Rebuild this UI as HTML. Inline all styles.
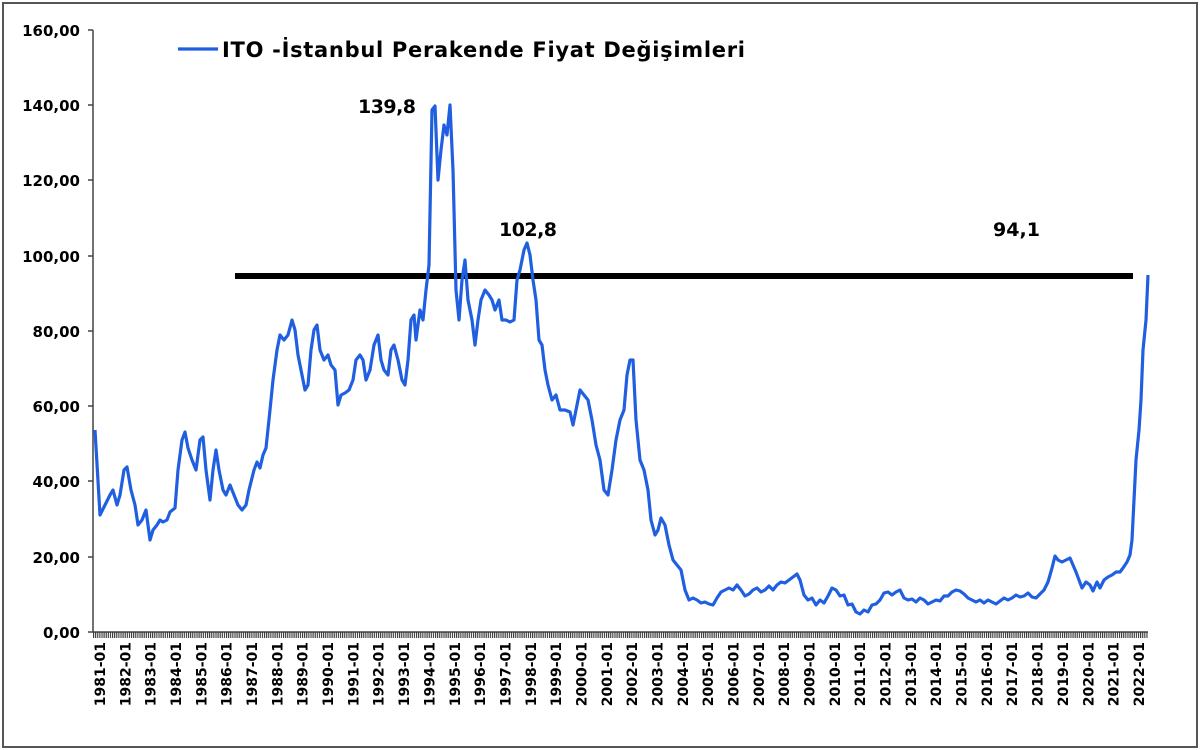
<!DOCTYPE html>
<html><head><meta charset="utf-8"><style>
html,body{margin:0;padding:0;background:#fff;width:1200px;height:750px;overflow:hidden}
text{font-family:"DejaVu Sans","Liberation Sans",sans-serif;font-weight:bold;fill:#000}
</style></head><body>
<svg width="1200" height="750" viewBox="0 0 1200 750" xmlns="http://www.w3.org/2000/svg">
<defs>
<pattern id="tk" x="93" y="0" width="2.111" height="10" patternUnits="userSpaceOnUse">
<rect x="0" y="0" width="1.1" height="10" fill="#333"/>
</pattern>
</defs>
<rect x="3" y="3" width="1194" height="744" fill="#fff" stroke="#555" stroke-width="2"/>
<line x1="93" y1="30" x2="93" y2="632" stroke="#444" stroke-width="1.5"/>
<line x1="93" y1="632" x2="1148" y2="632" stroke="#444" stroke-width="1.5"/>
<rect x="93" y="632" width="1055" height="6" fill="url(#tk)"/>
<g stroke="#444" stroke-width="1.5">
<line x1="88" y1="632" x2="93" y2="632"/><line x1="88" y1="557" x2="93" y2="557"/><line x1="88" y1="481" x2="93" y2="481"/><line x1="88" y1="406" x2="93" y2="406"/><line x1="88" y1="331" x2="93" y2="331"/><line x1="88" y1="256" x2="93" y2="256"/><line x1="88" y1="180" x2="93" y2="180"/><line x1="88" y1="105" x2="93" y2="105"/><line x1="88" y1="30" x2="93" y2="30"/>
</g>
<g font-size="15" text-anchor="end">
<text x="80" y="638">0,00</text>
<text x="80" y="563">20,00</text>
<text x="80" y="487">40,00</text>
<text x="80" y="412">60,00</text>
<text x="80" y="337">80,00</text>
<text x="80" y="262">100,00</text>
<text x="80" y="186">120,00</text>
<text x="80" y="111">140,00</text>
<text x="80" y="36">160,00</text>
</g>
<g font-size="14" text-anchor="end">
<text transform="translate(105,642) rotate(-90)">1981-01</text>
<text transform="translate(130.3,642) rotate(-90)">1982-01</text>
<text transform="translate(155.7,642) rotate(-90)">1983-01</text>
<text transform="translate(181,642) rotate(-90)">1984-01</text>
<text transform="translate(206.4,642) rotate(-90)">1985-01</text>
<text transform="translate(231.7,642) rotate(-90)">1986-01</text>
<text transform="translate(257,642) rotate(-90)">1987-01</text>
<text transform="translate(282.4,642) rotate(-90)">1988-01</text>
<text transform="translate(307.7,642) rotate(-90)">1989-01</text>
<text transform="translate(333.1,642) rotate(-90)">1990-01</text>
<text transform="translate(358.4,642) rotate(-90)">1991-01</text>
<text transform="translate(383.7,642) rotate(-90)">1992-01</text>
<text transform="translate(409.1,642) rotate(-90)">1993-01</text>
<text transform="translate(434.4,642) rotate(-90)">1994-01</text>
<text transform="translate(459.8,642) rotate(-90)">1995-01</text>
<text transform="translate(485.1,642) rotate(-90)">1996-01</text>
<text transform="translate(510.4,642) rotate(-90)">1997-01</text>
<text transform="translate(535.8,642) rotate(-90)">1998-01</text>
<text transform="translate(561.1,642) rotate(-90)">1999-01</text>
<text transform="translate(586.5,642) rotate(-90)">2000-01</text>
<text transform="translate(611.8,642) rotate(-90)">2001-01</text>
<text transform="translate(637.1,642) rotate(-90)">2002-01</text>
<text transform="translate(662.5,642) rotate(-90)">2003-01</text>
<text transform="translate(687.8,642) rotate(-90)">2004-01</text>
<text transform="translate(713.2,642) rotate(-90)">2005-01</text>
<text transform="translate(738.5,642) rotate(-90)">2006-01</text>
<text transform="translate(763.8,642) rotate(-90)">2007-01</text>
<text transform="translate(789.2,642) rotate(-90)">2008-01</text>
<text transform="translate(814.5,642) rotate(-90)">2009-01</text>
<text transform="translate(839.9,642) rotate(-90)">2010-01</text>
<text transform="translate(865.2,642) rotate(-90)">2011-01</text>
<text transform="translate(890.5,642) rotate(-90)">2012-01</text>
<text transform="translate(915.9,642) rotate(-90)">2013-01</text>
<text transform="translate(941.2,642) rotate(-90)">2014-01</text>
<text transform="translate(966.6,642) rotate(-90)">2015-01</text>
<text transform="translate(991.9,642) rotate(-90)">2016-01</text>
<text transform="translate(1017.2,642) rotate(-90)">2017-01</text>
<text transform="translate(1042.6,642) rotate(-90)">2018-01</text>
<text transform="translate(1067.9,642) rotate(-90)">2019-01</text>
<text transform="translate(1093.3,642) rotate(-90)">2020-01</text>
<text transform="translate(1118.6,642) rotate(-90)">2021-01</text>
<text transform="translate(1144,642) rotate(-90)">2022-01</text>
</g>
<line x1="235" y1="276" x2="1133" y2="276" stroke="#000" stroke-width="6"/>
<polyline fill="none" stroke="#1f5fe0" stroke-width="3.2" stroke-linejoin="round" points="95,430 100,515 105,505 110,495 113,490 117,505 120,495 124,470 127,467 131,490 135,505 138,525 142,520 146,510 150,540 153,530 157,525 160,520 163,522 167,520 170,512 175,508 178,470 182,440 185,432 188,448 192,460 196,470 200,440 203,437 206,470 210,500 213,470 216,450 219,470 223,490 226,495 230,485 234,495 238,505 242,510 246,505 249,490 254,470 257,462 260,468 263,455 266,448 270,410 273,380 277,350 280,335 284,340 288,335 292,320 295,330 298,355 302,375 305,390 308,385 311,350 314,330 317,325 320,350 324,360 328,355 331,365 335,370 338,405 341,395 345,393 349,390 353,380 356,360 360,355 363,360 366,380 370,370 374,345 378,335 381,360 384,370 388,375 391,350 394,345 398,360 402,380 405,385 408,360 411,320 414,315 416,340 420,310 423,320 426,290 429,265 432,110 435,106 438,180 441,150 444,125 447,135 450,105 453,170 456,290 459,320 462,280 465,260 468,300 472,320 475,345 478,320 481,300 485,290 489,295 492,300 495,310 499,300 502,320 506,320 510,322 514,320 517,280 520,270 524,250 527,243 530,255 533,280 536,300 539,340 542,345 545,370 548,385 552,400 556,395 560,410 565,410 570,412 573,425 576,410 580,390 584,395 588,400 592,420 596,445 600,460 604,490 608,495 612,470 616,440 620,420 624,410 627,375 630,360 633,360 636,420 640,460 644,470 648,490 651,520 655,535 658,530 661,518 665,525 669,545 673,560 677,565 681,570 685,590 689,600 693,598 697,600 701,603 705,602 709,604 713,605 717,598 721,592 725,590 729,588 733,590 737,585 741,590 745,596 749,594 753,590 757,588 761,592 765,590 769,586 773,590 777,585 781,582 785,583 789,580 793,577 797,574 800,580 804,595 808,600 812,598 816,605 820,600 824,603 828,596 832,588 836,590 840,596 844,595 848,605 852,604 856,612 860,614 864,610 868,612 872,605 876,604 880,600 884,593 888,592 892,595 896,592 900,590 904,598 908,600 912,599 916,602 920,598 924,600 928,604 932,602 936,600 940,601 944,596 948,596 952,592 956,590 960,591 964,594 968,598 972,600 976,602 980,600 984,603 988,600 992,602 996,604 1000,601 1004,598 1008,600 1012,598 1016,595 1020,597 1024,596 1028,593 1032,597 1036,598 1040,594 1044,590 1048,582 1052,568 1055,556 1058,560 1062,562 1066,560 1070,558 1073,565 1076,572 1079,580 1082,588 1086,582 1090,585 1093,591 1097,582 1100,588 1104,580 1108,577 1112,575 1116,572 1120,572 1123,568 1127,562 1130,555 1132,540 1134,500 1136,460 1139,430 1141,400 1143,350 1146,320 1148,275"/>
<line x1="178" y1="49" x2="218" y2="49" stroke="#1f5fe0" stroke-width="3.2"/>
<text x="222" y="57" font-size="21" textLength="523">ITO -İstanbul  Perakende Fiyat Değişimleri</text>
<text x="358" y="113" font-size="19" textLength="58">139,8</text>
<text x="499" y="236" font-size="19" textLength="58">102,8</text>
<text x="993" y="236" font-size="19" textLength="47">94,1</text>
</svg>
</body></html>
